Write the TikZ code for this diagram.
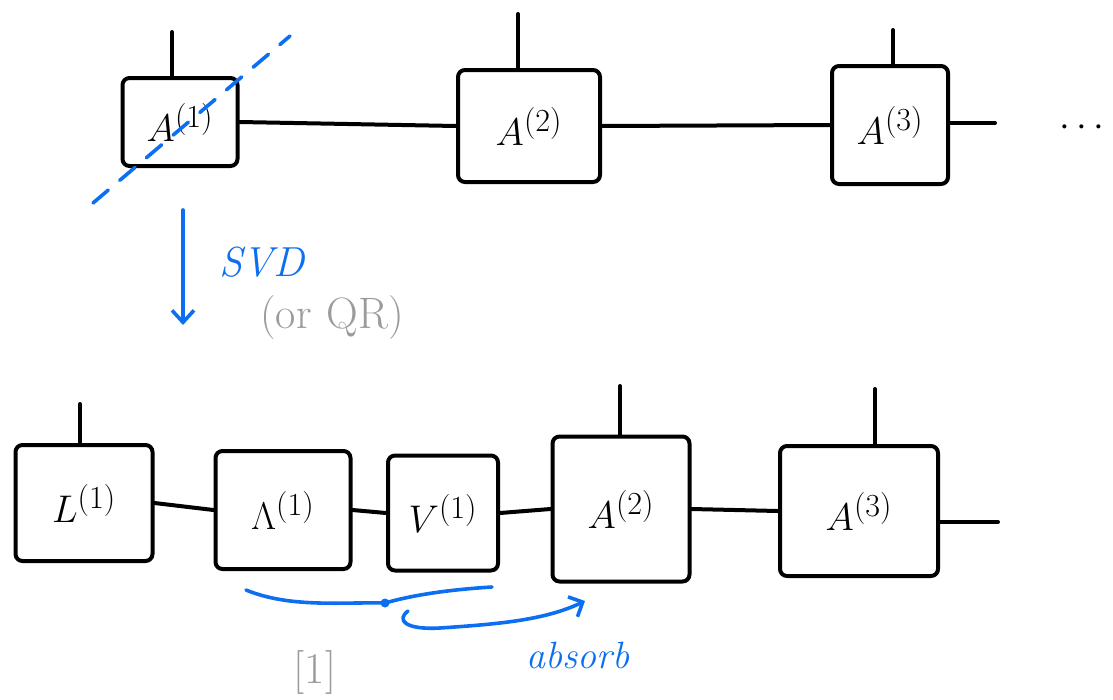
\documentclass[tikz,border=0pt]{standalone}
\usepackage{graphicx}
\usetikzlibrary{arrows.meta}
\definecolor{penblue}{RGB}{12,110,240}
\definecolor{pengray}{RGB}{155,155,155}
% tensor labels: math at the largest built-in size, enlarged
\newcommand{\tenslabel}[1]{\scalebox{1.55}{\fontsize{24.88}{26}\selectfont$#1$}}
\begin{document}
\begin{tikzpicture}[x=1pt,y=-1pt,
  ink/.style={line width=4pt, line cap=round, line join=round},
  tensor/.style={draw, ink, rounded corners=7pt, inner sep=0pt},
  bond/.style={ink},
  leg/.style={ink},
  bluepen/.style={penblue, line width=3.6pt, line cap=round, line join=round},
  note/.style={font=\fontsize{40}{40}\selectfont}]
\useasboundingbox (0,0) rectangle (1113,699);

% ---- top chain: A(1) -- A(2) -- A(3) -- ...
\node[tensor, minimum width=115pt, minimum height=88pt] (a1) at (180,122) {\tenslabel{A^{(1)}}};
\node[tensor, minimum width=142pt, minimum height=112pt] (a2) at (529,126) {\tenslabel{A^{(2)}}};
\node[tensor, minimum width=116pt, minimum height=118pt] (a3) at (890,125) {\tenslabel{A^{(3)}}};
\node (dots) at (1082,128) {\tenslabel{\cdots}};

\coordinate (a1up) at (172,32);
\coordinate (a2up) at (518,14);
\coordinate (a3up) at (893,30);
\coordinate (a3out) at (995,123);
\draw[leg] (a1.north -| a1up) -- (a1up);
\draw[leg] (a2.north -| a2up) -- (a2up);
\draw[leg] (a3.north -| a3up) -- (a3up);
\draw[bond] (a1.east) -- (a2.west);
\draw[bond] (a2.east) -- (a3.west);
\draw[bond] (a3.east |- a3out) -- (a3out);

% cut through the first tensor
\coordinate (cutA) at (93,203);
\coordinate (cutB) at (290,36);
\draw[bluepen, dash pattern=on 20pt off 15pt] (cutA) -- (cutB);

% ---- decomposition step
\coordinate (svdtop) at (183,210);
\coordinate (svdbot) at (183,325);
\draw[bluepen, -{Straight Barb[length=12pt,width=22pt]}] (svdtop) -- (svdbot);
\node[penblue, note, font=\fontsize{42}{42}\selectfont\itshape] (svd) at (262,262) {SVD};
\node[pengray, note, font=\fontsize{44}{44}\selectfont] (orqr) at (332,318) {(or\,\,QR)};

% ---- bottom chain: L(1) -- Lambda(1) -- V(1) -- A(2) -- A(3) --
\node[tensor, minimum width=137pt, minimum height=116pt] (l1) at (84,503) {\tenslabel{L^{(1)}}};
\node[tensor, minimum width=135pt, minimum height=118pt] (s1) at (283,510) {\tenslabel{\Lambda^{(1)}}};
\node[tensor, minimum width=110pt, minimum height=115pt] (v1) at (443,513) {\tenslabel{V^{(1)}}};
\node[tensor, minimum width=137pt, minimum height=145pt] (b2) at (621,509) {\tenslabel{A^{(2)}}};
\node[tensor, minimum width=158pt, minimum height=130pt] (b3) at (859,511) {\tenslabel{A^{(3)}}};

\coordinate (l1up) at (80,404);
\coordinate (b2up) at (620,386);
\coordinate (b3up) at (875,389);
\coordinate (b3out) at (998,522);
\draw[leg] (l1.north -| l1up) -- (l1up);
\draw[leg] (b2.north -| b2up) -- (b2up);
\draw[leg] (b3.north -| b3up) -- (b3up);
\draw[bond] (l1.east) -- (s1.west);
\draw[bond] (s1.east) -- (v1.west);
\draw[bond] (v1.east) -- (b2.west);
\draw[bond] (b2.east) -- (b3.west);
\draw[bond] (b3.east |- b3out) -- (b3out);

% ---- contraction of Lambda V into the next tensor
\coordinate (brL) at (246,590);
\coordinate (brM) at (385,603);
\coordinate (brR) at (492,587);
\coordinate (hookS) at (408,611);
\coordinate (absorbTip) at (585,601);
\draw[bluepen] (brL) .. controls (290,608) and (340,602) .. (brM)
  .. controls (420,593) and (460,589) .. (brR);
\fill[penblue] (brM) circle (4.5pt);
\draw[bluepen, -{Straight Barb[length=11pt,width=22pt]}] (hookS)
  .. controls (396,620) and (405,630) .. (440,628)
  .. controls (500,624) and (545,620) .. (absorbTip);
\node[penblue, font=\fontsize{38}{38}\selectfont\itshape] (absorb) at (578,655) {absorb};
\node[pengray, font=\fontsize{44}{44}\selectfont] (ref) at (315,672) {[1]};
\end{tikzpicture}
\end{document}
